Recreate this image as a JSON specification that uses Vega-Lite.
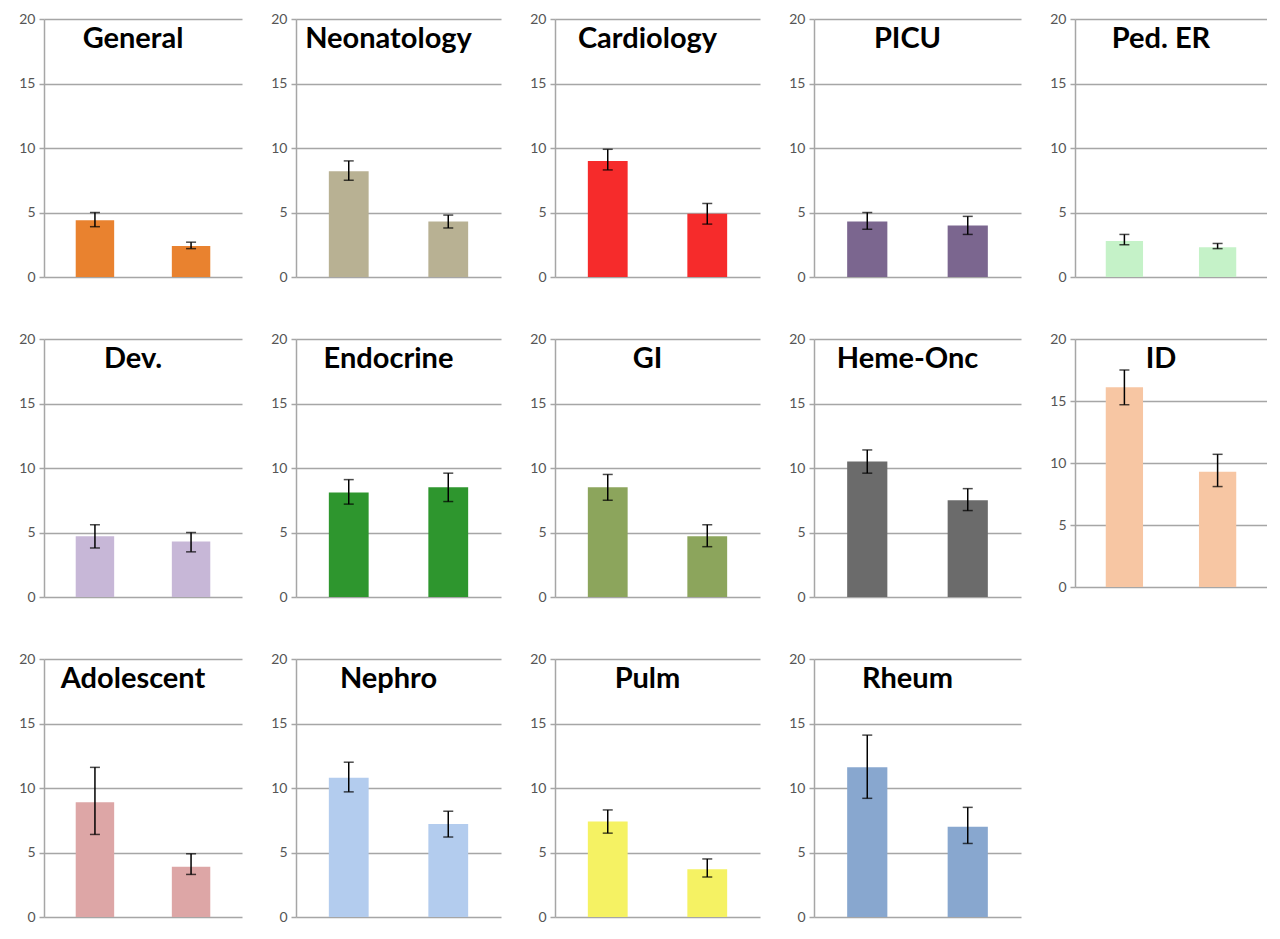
{
"$schema": "https://vega.github.io/schema/vega-lite/v6.json",
"background": "white",
"padding": {"left": 18, "top": 12, "right": 0, "bottom": 0},
"spacing": 48,
"data": {"values": [
{"dept":"General","grp":"A","value":4.4,"lo":3.9,"hi":5.0},
{"dept":"General","grp":"B","value":2.4,"lo":2.2,"hi":2.7},
{"dept":"Neonatology","grp":"A","value":8.2,"lo":7.5,"hi":9.0},
{"dept":"Neonatology","grp":"B","value":4.3,"lo":3.8,"hi":4.8},
{"dept":"Cardiology","grp":"A","value":9.0,"lo":8.3,"hi":9.9},
{"dept":"Cardiology","grp":"B","value":4.9,"lo":4.1,"hi":5.7},
{"dept":"PICU","grp":"A","value":4.3,"lo":3.7,"hi":5.0},
{"dept":"PICU","grp":"B","value":4.0,"lo":3.3,"hi":4.7},
{"dept":"Ped. ER","grp":"A","value":2.8,"lo":2.5,"hi":3.3},
{"dept":"Ped. ER","grp":"B","value":2.3,"lo":2.2,"hi":2.6},
{"dept":"Dev.","grp":"A","value":4.7,"lo":3.8,"hi":5.6},
{"dept":"Dev.","grp":"B","value":4.3,"lo":3.5,"hi":5.0},
{"dept":"Endocrine","grp":"A","value":8.1,"lo":7.2,"hi":9.1},
{"dept":"Endocrine","grp":"B","value":8.5,"lo":7.4,"hi":9.6},
{"dept":"GI","grp":"A","value":8.5,"lo":7.5,"hi":9.5},
{"dept":"GI","grp":"B","value":4.7,"lo":3.9,"hi":5.6},
{"dept":"Heme-Onc","grp":"A","value":10.5,"lo":9.6,"hi":11.4},
{"dept":"Heme-Onc","grp":"B","value":7.5,"lo":6.7,"hi":8.4},
{"dept":"ID","grp":"A","value":16.1,"lo":14.7,"hi":17.5},
{"dept":"ID","grp":"B","value":9.3,"lo":8.1,"hi":10.7},
{"dept":"Adolescent","grp":"A","value":8.9,"lo":6.4,"hi":11.6},
{"dept":"Adolescent","grp":"B","value":3.9,"lo":3.3,"hi":4.9},
{"dept":"Nephro","grp":"A","value":10.8,"lo":9.7,"hi":12.0},
{"dept":"Nephro","grp":"B","value":7.2,"lo":6.2,"hi":8.2},
{"dept":"Pulm","grp":"A","value":7.4,"lo":6.5,"hi":8.3},
{"dept":"Pulm","grp":"B","value":3.7,"lo":3.1,"hi":4.5},
{"dept":"Rheum","grp":"A","value":11.6,"lo":9.2,"hi":14.1},
{"dept":"Rheum","grp":"B","value":7.0,"lo":5.7,"hi":8.5}
]},
"config": {
  "view": {"stroke": null},
  "font": "Lato",
  "title": {"fontSize": 29, "fontWeight": "bold", "font": "Lato", "color": "#000000", "offset": -42, "baseline": "alphabetic", "anchor": "middle", "dx": -10},
  "axisY": {"tickCount": 4, "title": null, "grid": true, "gridColor": "#808080", "gridOpacity": 0.7, "gridWidth": 1.5, "domainColor": "#A6A6A6", "domainWidth": 1.5, "tickColor": "#A6A6A6", "tickSize": 5, "tickWidth": 1.5, "labelFontSize": 14, "labelColor": "#555555", "labelPadding": 4, "zindex": 1},
  "bar": {"width": {"band": 0.4}}
},
"vconcat": [
{"spacing": 28, "hconcat": [
 {"title": "General", "width": 198, "height": 258, "transform": [{"filter": "datum.dept === 'General'"}],
  "encoding": {"x": {"field": "grp", "type": "nominal", "axis": null, "scale": {"paddingInner": 0, "paddingOuter": 0.03}}},
  "layer": [
   {"mark": "bar", "encoding": {"y": {"field": "value", "type": "quantitative", "scale": {"domain": [0,20]}}, "color": {"field": "dept", "type": "nominal", "legend": null, "scale": {"domain": ["General","Neonatology","Cardiology","PICU","Ped. ER","Dev.","Endocrine","GI","Heme-Onc","ID","Adolescent","Nephro","Pulm","Rheum"], "range": ["#E9822F","#B8B193","#F62B2B","#7B668F","#C5F2C8","#C7B7D7","#2E962E","#8CA55C","#6B6B6B","#F7C6A3","#DDA6A6","#B3CCEE","#F5F263","#88A7CF"]}}}},
   {"mark": {"type": "rule", "color": "#000000", "strokeWidth": 1.5}, "encoding": {"y": {"field": "lo", "type": "quantitative"}, "y2": {"field": "hi"}}},
   {"mark": {"type": "tick", "color": "#000000", "thickness": 1.5, "size": 10}, "encoding": {"y": {"field": "lo", "type": "quantitative"}}},
   {"mark": {"type": "tick", "color": "#000000", "thickness": 1.5, "size": 10}, "encoding": {"y": {"field": "hi", "type": "quantitative"}}}
  ]},
 {"title": "Neonatology", "width": 205, "height": 258, "transform": [{"filter": "datum.dept === 'Neonatology'"}],
  "encoding": {"x": {"field": "grp", "type": "nominal", "axis": null, "scale": {"paddingInner": 0, "paddingOuter": 0.03}}},
  "layer": [
   {"mark": "bar", "encoding": {"y": {"field": "value", "type": "quantitative", "scale": {"domain": [0,20]}}, "color": {"field": "dept", "type": "nominal", "legend": null}}},
   {"mark": {"type": "rule", "color": "#000000", "strokeWidth": 1.5}, "encoding": {"y": {"field": "lo", "type": "quantitative"}, "y2": {"field": "hi"}}},
   {"mark": {"type": "tick", "color": "#000000", "thickness": 1.5, "size": 10}, "encoding": {"y": {"field": "lo", "type": "quantitative"}}},
   {"mark": {"type": "tick", "color": "#000000", "thickness": 1.5, "size": 10}, "encoding": {"y": {"field": "hi", "type": "quantitative"}}}
  ]},
 {"title": "Cardiology", "width": 205, "height": 258, "transform": [{"filter": "datum.dept === 'Cardiology'"}],
  "encoding": {"x": {"field": "grp", "type": "nominal", "axis": null, "scale": {"paddingInner": 0, "paddingOuter": 0.03}}},
  "layer": [
   {"mark": "bar", "encoding": {"y": {"field": "value", "type": "quantitative", "scale": {"domain": [0,20]}}, "color": {"field": "dept", "type": "nominal", "legend": null}}},
   {"mark": {"type": "rule", "color": "#000000", "strokeWidth": 1.5}, "encoding": {"y": {"field": "lo", "type": "quantitative"}, "y2": {"field": "hi"}}},
   {"mark": {"type": "tick", "color": "#000000", "thickness": 1.5, "size": 10}, "encoding": {"y": {"field": "lo", "type": "quantitative"}}},
   {"mark": {"type": "tick", "color": "#000000", "thickness": 1.5, "size": 10}, "encoding": {"y": {"field": "hi", "type": "quantitative"}}}
  ]},
 {"title": "PICU", "width": 207, "height": 258, "transform": [{"filter": "datum.dept === 'PICU'"}],
  "encoding": {"x": {"field": "grp", "type": "nominal", "axis": null, "scale": {"paddingInner": 0, "paddingOuter": 0.03}}},
  "layer": [
   {"mark": "bar", "encoding": {"y": {"field": "value", "type": "quantitative", "scale": {"domain": [0,20]}}, "color": {"field": "dept", "type": "nominal", "legend": null}}},
   {"mark": {"type": "rule", "color": "#000000", "strokeWidth": 1.5}, "encoding": {"y": {"field": "lo", "type": "quantitative"}, "y2": {"field": "hi"}}},
   {"mark": {"type": "tick", "color": "#000000", "thickness": 1.5, "size": 10}, "encoding": {"y": {"field": "lo", "type": "quantitative"}}},
   {"mark": {"type": "tick", "color": "#000000", "thickness": 1.5, "size": 10}, "encoding": {"y": {"field": "hi", "type": "quantitative"}}}
  ]},
 {"title": "Ped. ER", "width": 192, "height": 258, "transform": [{"filter": "datum.dept === 'Ped. ER'"}],
  "encoding": {"x": {"field": "grp", "type": "nominal", "axis": null, "scale": {"paddingInner": 0, "paddingOuter": 0.03}}},
  "layer": [
   {"mark": "bar", "encoding": {"y": {"field": "value", "type": "quantitative", "scale": {"domain": [0,20]}}, "color": {"field": "dept", "type": "nominal", "legend": null}}},
   {"mark": {"type": "rule", "color": "#000000", "strokeWidth": 1.5}, "encoding": {"y": {"field": "lo", "type": "quantitative"}, "y2": {"field": "hi"}}},
   {"mark": {"type": "tick", "color": "#000000", "thickness": 1.5, "size": 10}, "encoding": {"y": {"field": "lo", "type": "quantitative"}}},
   {"mark": {"type": "tick", "color": "#000000", "thickness": 1.5, "size": 10}, "encoding": {"y": {"field": "hi", "type": "quantitative"}}}
  ]}
]},
{"spacing": 28, "hconcat": [
 {"title": "Dev.", "width": 198, "height": 258, "transform": [{"filter": "datum.dept === 'Dev.'"}],
  "encoding": {"x": {"field": "grp", "type": "nominal", "axis": null, "scale": {"paddingInner": 0, "paddingOuter": 0.03}}},
  "layer": [
   {"mark": "bar", "encoding": {"y": {"field": "value", "type": "quantitative", "scale": {"domain": [0,20]}}, "color": {"field": "dept", "type": "nominal", "legend": null}}},
   {"mark": {"type": "rule", "color": "#000000", "strokeWidth": 1.5}, "encoding": {"y": {"field": "lo", "type": "quantitative"}, "y2": {"field": "hi"}}},
   {"mark": {"type": "tick", "color": "#000000", "thickness": 1.5, "size": 10}, "encoding": {"y": {"field": "lo", "type": "quantitative"}}},
   {"mark": {"type": "tick", "color": "#000000", "thickness": 1.5, "size": 10}, "encoding": {"y": {"field": "hi", "type": "quantitative"}}}
  ]},
 {"title": "Endocrine", "width": 205, "height": 258, "transform": [{"filter": "datum.dept === 'Endocrine'"}],
  "encoding": {"x": {"field": "grp", "type": "nominal", "axis": null, "scale": {"paddingInner": 0, "paddingOuter": 0.03}}},
  "layer": [
   {"mark": "bar", "encoding": {"y": {"field": "value", "type": "quantitative", "scale": {"domain": [0,20]}}, "color": {"field": "dept", "type": "nominal", "legend": null}}},
   {"mark": {"type": "rule", "color": "#000000", "strokeWidth": 1.5}, "encoding": {"y": {"field": "lo", "type": "quantitative"}, "y2": {"field": "hi"}}},
   {"mark": {"type": "tick", "color": "#000000", "thickness": 1.5, "size": 10}, "encoding": {"y": {"field": "lo", "type": "quantitative"}}},
   {"mark": {"type": "tick", "color": "#000000", "thickness": 1.5, "size": 10}, "encoding": {"y": {"field": "hi", "type": "quantitative"}}}
  ]},
 {"title": "GI", "width": 205, "height": 258, "transform": [{"filter": "datum.dept === 'GI'"}],
  "encoding": {"x": {"field": "grp", "type": "nominal", "axis": null, "scale": {"paddingInner": 0, "paddingOuter": 0.03}}},
  "layer": [
   {"mark": "bar", "encoding": {"y": {"field": "value", "type": "quantitative", "scale": {"domain": [0,20]}}, "color": {"field": "dept", "type": "nominal", "legend": null}}},
   {"mark": {"type": "rule", "color": "#000000", "strokeWidth": 1.5}, "encoding": {"y": {"field": "lo", "type": "quantitative"}, "y2": {"field": "hi"}}},
   {"mark": {"type": "tick", "color": "#000000", "thickness": 1.5, "size": 10}, "encoding": {"y": {"field": "lo", "type": "quantitative"}}},
   {"mark": {"type": "tick", "color": "#000000", "thickness": 1.5, "size": 10}, "encoding": {"y": {"field": "hi", "type": "quantitative"}}}
  ]},
 {"title": "Heme-Onc", "width": 207, "height": 258, "transform": [{"filter": "datum.dept === 'Heme-Onc'"}],
  "encoding": {"x": {"field": "grp", "type": "nominal", "axis": null, "scale": {"paddingInner": 0, "paddingOuter": 0.03}}},
  "layer": [
   {"mark": "bar", "encoding": {"y": {"field": "value", "type": "quantitative", "scale": {"domain": [0,20]}}, "color": {"field": "dept", "type": "nominal", "legend": null}}},
   {"mark": {"type": "rule", "color": "#000000", "strokeWidth": 1.5}, "encoding": {"y": {"field": "lo", "type": "quantitative"}, "y2": {"field": "hi"}}},
   {"mark": {"type": "tick", "color": "#000000", "thickness": 1.5, "size": 10}, "encoding": {"y": {"field": "lo", "type": "quantitative"}}},
   {"mark": {"type": "tick", "color": "#000000", "thickness": 1.5, "size": 10}, "encoding": {"y": {"field": "hi", "type": "quantitative"}}}
  ]},
 {"title": "ID", "width": 192, "height": 248, "transform": [{"filter": "datum.dept === 'ID'"}],
  "encoding": {"x": {"field": "grp", "type": "nominal", "axis": null, "scale": {"paddingInner": 0, "paddingOuter": 0.03}}},
  "layer": [
   {"mark": "bar", "encoding": {"y": {"field": "value", "type": "quantitative", "scale": {"domain": [0,20]}}, "color": {"field": "dept", "type": "nominal", "legend": null}}},
   {"mark": {"type": "rule", "color": "#000000", "strokeWidth": 1.5}, "encoding": {"y": {"field": "lo", "type": "quantitative"}, "y2": {"field": "hi"}}},
   {"mark": {"type": "tick", "color": "#000000", "thickness": 1.5, "size": 10}, "encoding": {"y": {"field": "lo", "type": "quantitative"}}},
   {"mark": {"type": "tick", "color": "#000000", "thickness": 1.5, "size": 10}, "encoding": {"y": {"field": "hi", "type": "quantitative"}}}
  ]}
]},
{"spacing": 28, "hconcat": [
 {"title": "Adolescent", "width": 198, "height": 258, "transform": [{"filter": "datum.dept === 'Adolescent'"}],
  "encoding": {"x": {"field": "grp", "type": "nominal", "axis": null, "scale": {"paddingInner": 0, "paddingOuter": 0.03}}},
  "layer": [
   {"mark": "bar", "encoding": {"y": {"field": "value", "type": "quantitative", "scale": {"domain": [0,20]}}, "color": {"field": "dept", "type": "nominal", "legend": null}}},
   {"mark": {"type": "rule", "color": "#000000", "strokeWidth": 1.5}, "encoding": {"y": {"field": "lo", "type": "quantitative"}, "y2": {"field": "hi"}}},
   {"mark": {"type": "tick", "color": "#000000", "thickness": 1.5, "size": 10}, "encoding": {"y": {"field": "lo", "type": "quantitative"}}},
   {"mark": {"type": "tick", "color": "#000000", "thickness": 1.5, "size": 10}, "encoding": {"y": {"field": "hi", "type": "quantitative"}}}
  ]},
 {"title": "Nephro", "width": 205, "height": 258, "transform": [{"filter": "datum.dept === 'Nephro'"}],
  "encoding": {"x": {"field": "grp", "type": "nominal", "axis": null, "scale": {"paddingInner": 0, "paddingOuter": 0.03}}},
  "layer": [
   {"mark": "bar", "encoding": {"y": {"field": "value", "type": "quantitative", "scale": {"domain": [0,20]}}, "color": {"field": "dept", "type": "nominal", "legend": null}}},
   {"mark": {"type": "rule", "color": "#000000", "strokeWidth": 1.5}, "encoding": {"y": {"field": "lo", "type": "quantitative"}, "y2": {"field": "hi"}}},
   {"mark": {"type": "tick", "color": "#000000", "thickness": 1.5, "size": 10}, "encoding": {"y": {"field": "lo", "type": "quantitative"}}},
   {"mark": {"type": "tick", "color": "#000000", "thickness": 1.5, "size": 10}, "encoding": {"y": {"field": "hi", "type": "quantitative"}}}
  ]},
 {"title": "Pulm", "width": 205, "height": 258, "transform": [{"filter": "datum.dept === 'Pulm'"}],
  "encoding": {"x": {"field": "grp", "type": "nominal", "axis": null, "scale": {"paddingInner": 0, "paddingOuter": 0.03}}},
  "layer": [
   {"mark": "bar", "encoding": {"y": {"field": "value", "type": "quantitative", "scale": {"domain": [0,20]}}, "color": {"field": "dept", "type": "nominal", "legend": null}}},
   {"mark": {"type": "rule", "color": "#000000", "strokeWidth": 1.5}, "encoding": {"y": {"field": "lo", "type": "quantitative"}, "y2": {"field": "hi"}}},
   {"mark": {"type": "tick", "color": "#000000", "thickness": 1.5, "size": 10}, "encoding": {"y": {"field": "lo", "type": "quantitative"}}},
   {"mark": {"type": "tick", "color": "#000000", "thickness": 1.5, "size": 10}, "encoding": {"y": {"field": "hi", "type": "quantitative"}}}
  ]},
 {"title": "Rheum", "width": 207, "height": 258, "transform": [{"filter": "datum.dept === 'Rheum'"}],
  "encoding": {"x": {"field": "grp", "type": "nominal", "axis": null, "scale": {"paddingInner": 0, "paddingOuter": 0.03}}},
  "layer": [
   {"mark": "bar", "encoding": {"y": {"field": "value", "type": "quantitative", "scale": {"domain": [0,20]}}, "color": {"field": "dept", "type": "nominal", "legend": null}}},
   {"mark": {"type": "rule", "color": "#000000", "strokeWidth": 1.5}, "encoding": {"y": {"field": "lo", "type": "quantitative"}, "y2": {"field": "hi"}}},
   {"mark": {"type": "tick", "color": "#000000", "thickness": 1.5, "size": 10}, "encoding": {"y": {"field": "lo", "type": "quantitative"}}},
   {"mark": {"type": "tick", "color": "#000000", "thickness": 1.5, "size": 10}, "encoding": {"y": {"field": "hi", "type": "quantitative"}}}
  ]}
]}
]
}
